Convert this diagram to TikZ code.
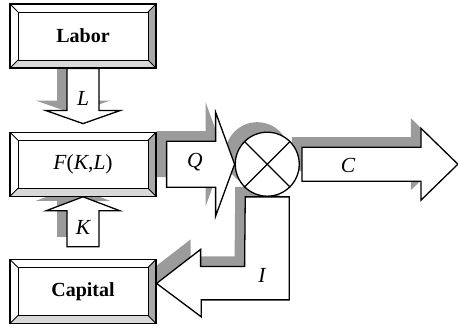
\documentclass[tikz,border=0pt]{standalone}
\usepackage{fontspec}
\setmainfont{Liberation Serif}
\usetikzlibrary{positioning,calc,backgrounds}
\definecolor{Sgray}{RGB}{155,155,155}
\definecolor{Bdark}{RGB}{168,168,168}
\definecolor{Blight}{RGB}{216,216,216}
\tikzset{
  bevelbox/.style={draw, line width=1.2pt, fill=white, minimum width=146pt, minimum height=64pt,
    inner sep=0pt, font=\fontsize{20}{24}\selectfont\bfseries,
    path picture={
      \fill[Bdark] (path picture bounding box.north east) -- (path picture bounding box.south east)
        -- ([shift={(-8pt,8pt)}]path picture bounding box.south east)
        -- ([shift={(-8pt,-8pt)}]path picture bounding box.north east) -- cycle;
      \fill[Blight] (path picture bounding box.south west) -- (path picture bounding box.south east)
        -- ([shift={(-8pt,8pt)}]path picture bounding box.south east)
        -- ([shift={(8pt,8pt)}]path picture bounding box.south west) -- cycle;
      \draw[line width=0.9pt] ([shift={(8pt,-8pt)}]path picture bounding box.north west)
        rectangle ([shift={(-8pt,8pt)}]path picture bounding box.south east);
      \draw[line width=0.9pt] (path picture bounding box.north west) -- ++(8pt,-8pt)
        (path picture bounding box.north east) -- ++(-8pt,-8pt)
        (path picture bounding box.south east) -- ++(-8pt,8pt)
        (path picture bounding box.south west) -- ++(8pt,8pt);
    }},
  sumnode/.style={circle, draw, fill=white, line width=1.3pt, minimum size=64pt, inner sep=0pt},
  shadow/.style={fill=Sgray, draw=none, transform canvas={shift={(-10pt,10pt)}}},
  fatarrow/.style={draw, fill=white, line width=1.3pt, line join=miter, preaction={shadow}},
  lbl/.style={font=\fontsize{21.5}{25}\selectfont\itshape, inner sep=0pt}
}
\begin{document}
\begin{tikzpicture}[x=1pt, y=-1pt]
  \useasboundingbox (0,0) rectangle (458,326);
  \node[bevelbox] (labor) at (83,36) {Labor};
  \node[bevelbox, below=63pt of labor, font=\fontsize{21.5}{25}\selectfont] (fkl)
    {\textit{F}(\textit{K},\textit{L})};
  \node[bevelbox, below=62pt of fkl] (capital) {Capital};
  \node[sumnode, right=78pt of fkl] (sum) {};
  \draw[line width=1.3pt] (sum.north west) -- (sum.south east)
    (sum.north east) -- (sum.south west);

  \begin{scope}[on background layer]
    \fill[shadow] (sum.center) circle (32);
    % L: labor -> fkl
    \path[fatarrow] ([xshift=-16pt]labor.south) -- ++(0,42) -- ++(-21,0) -- ++(37,13)
      -- ++(37,-13) -- ++(-21,0) -- ++(0,-42) -- cycle;
    % K: capital -> fkl
    \path[fatarrow] ([shift={(-16pt,12pt)}]capital.north) -- ++(0,-36) -- ++(-21,0)
      -- (fkl.south) -- ++(37,14) -- ++(-21,0) -- ++(0,36) -- cycle;
    % Q: fkl -> sum
    \path[fatarrow] ([shift={(10pt,23pt)}]fkl.east) -- ++(49,0) -- ++(0,-29)
      -- (sum.west) -- ++(-19,52) -- ++(0,-29) -- ++(-49,0) -- cycle;
    % C: sum -> out
    \path[fatarrow] ([shift={(2pt,17pt)}]sum.east) -- ++(119,0) -- ++(0,-19)
      -- ++(37,36) -- ++(-37,36) -- ++(0,-19) -- ++(-119,0) -- cycle;
    % I: sum -> capital
    \path[fatarrow] ([xshift=-22pt]sum.south) -- ++(44,0) -- ++(0,103) -- ++(-88,0)
      -- ++(0,17) -- ([yshift=8pt]capital.east) -- ++(44,-34) -- ++(0,17)
      -- ++(44,0) -- cycle;
  \end{scope}

  \node[lbl] (lL) at (83,98) {L};
  \node[lbl] (lK) at (83,227) {K};
  \node[lbl] (lQ) at (195,162) {Q};
  \node[lbl] (lC) at (348,165) {C};
  \node[lbl] (lI) at (262,275) {I};
\end{tikzpicture}
\end{document}
